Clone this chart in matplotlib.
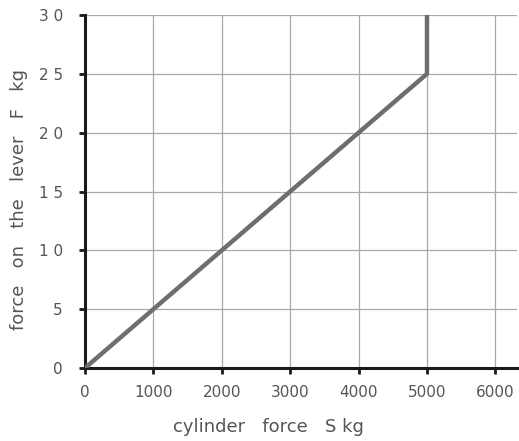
import matplotlib
matplotlib.use("Agg")
import matplotlib.pyplot as plt

# cylinder force S (kg) vs force on the lever F (kg)
cylinder_force = [0, 5000, 5000]
lever_force = [0, 25, 31]

x_ticks = [0, 1000, 2000, 3000, 4000, 5000, 6000]
y_ticks = [0, 5, 10, 15, 20, 25, 30]
y_tick_labels = ["0", "5", "1 0", "1 5", "2 0", "2 5", "3 0"]

plt.rcParams["font.family"] = ["DejaVu Sans"]

fig = plt.figure(figsize=(5.19, 4.41), dpi=100)
ax = fig.add_axes([85 / 519, 1 - 368 / 441, 432 / 519, 353 / 441])

ax.plot(cylinder_force, lever_force, color="#6e6e6e", linewidth=3.2,
        solid_joinstyle="miter", solid_capstyle="butt", clip_on=True, zorder=3)

ax.set_xlim(0, 6316)
ax.set_ylim(0, 30)
ax.set_xticks(x_ticks)
ax.set_yticks(y_ticks)
ax.set_yticklabels(y_tick_labels)

ax.grid(True, color="#a8a8a8", linewidth=0.9)
ax.set_axisbelow(True)

for side in ["top", "right"]:
    ax.spines[side].set_visible(False)
for side in ["left", "bottom"]:
    ax.spines[side].set_linewidth(2.2)
    ax.spines[side].set_color("#1a1a1a")

ax.tick_params(direction="out", length=4, width=2, color="#1a1a1a",
               labelsize=11, labelcolor="#555555")
ax.tick_params(axis="x", pad=8)
ax.tick_params(axis="y", pad=12)

ax.set_xlabel("cylinder   force   S kg", fontsize=13, color="#555555")
ax.set_ylabel("force   on   the   lever   F   kg", fontsize=13, color="#555555")
ax.xaxis.set_label_coords((268 - 85) / 432, -(418 - 368) / 353)
ax.yaxis.set_label_coords(-(85 - 28) / 432, (368 - 200) / 353)

fig.savefig("out.png", dpi=100)
